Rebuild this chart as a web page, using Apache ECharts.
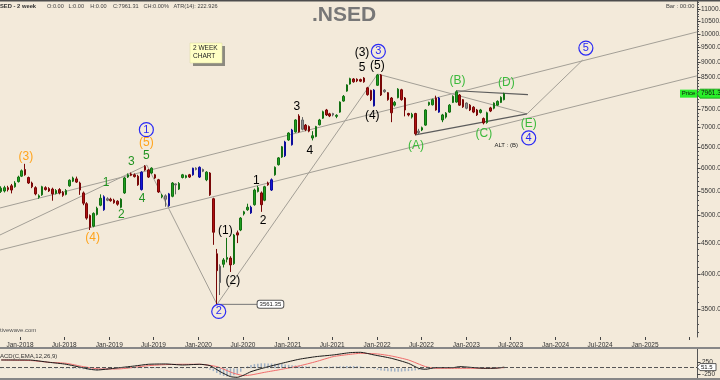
<!DOCTYPE html>
<html>
<head>
<meta charset="utf-8">
<title>.NSED - 2 week</title>
<script src="https://cdn.jsdelivr.net/npm/echarts@6/dist/echarts.min.js"></script>
<style>
html,body{margin:0;padding:0;background:#f3eada;overflow:hidden;}
#chart{width:720px;height:380px;}
</style>
</head>
<body>
<div id="chart"></div>
<script>
// ---------------- data ----------------
const firstBarDate = '2017-10-16';
const barStepDays = 14;

const opens = [5480,5490,5560,5600,5580,5690,5810,5960,5780,5660,
5560,5360,5410,5560,5540,5530,5440,5520,5460,5420,
5600,5700,5750,5660,5450,5230,5000,4800,5020,5200,
5110,5330,5320,5300,5280,5160,5450,5790,5860,5840,
5810,5520,6030,5950,5880,5840,5730,5370,5390,5190,
5380,5640,5530,5780,5780,5840,5840,5990,5790,5960,
5730,5880,5330,4320,4120,4150,4230,4250,4160,4680,
4730,5030,5110,5050,5210,5480,5450,5300,5660,5510,
5840,6070,6250,6620,6670,6930,6880,7310,7200,7060,
7020,6720,6760,7070,7250,7480,7370,7380,7300,7420,
7740,8040,8260,8420,8410,8400,8450,8140,8060,7600,
8220,8550,8070,7990,7830,7620,7840,8080,7830,7380,
7280,7380,6860,6930,7060,7630,7630,7830,7830,7200,
7280,7420,7700,7710,7920,7780,7680,7620,7560,7480,
7410,7240,7130,7540,7530,7620,7700,7780];

const closes = [5550,5560,5520,5510,5660,5790,5930,5840,5660,5580,
5430,5390,5580,5520,5490,5430,5500,5450,5400,5500,
5720,5770,5680,5510,5240,4950,4780,5040,5140,5340,
5370,5300,5290,5250,5220,5320,5770,5840,5830,5800,
5620,5900,5950,5790,5990,5770,5470,5400,5320,5430,
5660,5620,5650,5840,5820,5790,5990,5960,6010,5920,
5900,5410,4690,4050,3870,4220,4260,4140,4640,4640,
4950,5070,5160,5160,5510,5560,5210,5580,5620,5730,
6010,6230,6500,6280,6850,6550,7200,6880,6950,6940,
6900,6780,7020,7200,7430,7340,7310,7340,7330,7710,
7880,8230,8430,8330,8360,8350,8330,7930,7780,8070,
8550,7920,8020,7780,7400,7700,8100,7780,7480,7340,
7360,6830,6900,6990,7480,7700,7780,7480,7420,7340,
7390,7620,7880,8020,7620,7570,7530,7480,7420,7340,
7480,7120,7400,7450,7680,7730,7850,7961.31];

const highs = [5590,5600,5600,5640,5700,5820,5960,6090,5800,5690,
5590,5420,5600,5590,5570,5560,5530,5550,5490,5530,
5740,5800,5800,5690,5480,5260,5020,5060,5170,5420,
5400,5360,5350,5330,5300,5340,5790,5870,5890,5870,
5840,5920,6060,5970,6010,5860,5750,5430,5420,5450,
5680,5650,5680,5860,5840,5860,6000,6010,6030,5980,
5920,5900,5350,4400,4150,4250,4590,4280,4660,4720,
4970,5090,5230,5190,5540,5600,5480,5600,5690,5760,
6030,6250,6520,6650,6870,6960,7220,7360,7280,7090,
7050,6900,7040,7230,7460,7510,7400,7400,7360,7730,
7920,8250,8460,8450,8440,8430,8480,8170,8080,8100,
8580,8580,8100,8010,7860,7740,8130,8110,7860,7400,
7400,7400,6960,7020,7500,7720,7810,7900,7860,7370,
7420,7650,7910,8060,7950,7800,7700,7650,7590,7510,
7510,7270,7430,7570,7700,7760,7880,7990];

const lows = [5450,5460,5480,5440,5560,5670,5790,5820,5640,5550,
5400,5330,5390,5500,5470,5290,5420,5420,5370,5400,
5580,5680,5660,5410,5200,4920,4730,4780,5000,5180,
5090,5280,5270,5230,5190,5140,5430,5770,5810,5780,
5600,5500,5930,5770,5860,5750,5450,5340,5170,5170,
5360,5420,5510,5760,5760,5770,5820,5940,5770,5900,
5700,5390,4470,3561.35,3690,4100,4180,4030,4140,4500,
4710,5000,5090,5030,5190,5460,5070,5280,5600,5490,
5820,6050,6230,6250,6650,6530,6860,6860,6920,6900,
6870,6660,6740,7050,7230,7310,7280,7300,7250,7400,
7720,8020,8240,8300,8320,8320,8300,7900,7740,7580,
8200,7890,7990,7750,7140,7580,7820,7750,7300,7300,
7240,6790,6800,6900,7040,7600,7610,7460,7400,7140,
7240,7400,7680,7690,7600,7540,7500,7450,7390,7310,
7380,7080,7100,7420,7500,7600,7680,7760];

const blueBars = [30,41,49,56,58,73,79,83,85,109,128];
const greyBars = [31,48,51,57,59,64,88,97,112,122,136];

const xTickDates = ['2018-01-01','2018-07-01','2019-01-01','2019-07-01','2020-01-01','2020-07-01',
  '2021-01-01','2021-07-01','2022-01-01','2022-07-01','2023-01-01','2023-07-01','2024-01-01',
  '2024-07-01','2025-01-01','2025-07-01'];
const xTickLabels = ['Jan-2018','Jul-2018','Jan-2019','Jul-2019','Jan-2020','Jul-2020','Jan-2021',
  'Jul-2021','Jan-2022','Jul-2022','Jan-2023','Jul-2023','Jan-2024','Jul-2024','Jan-2025'];
const yTickLabels = [3500,4000,4500,5000,5500,6000,6500,7000,7500,8000,8500,9000,9500,10000,10500,11000];
const macdTickLabels = [250,-250];

const lastPrice = 7961.31;
const lastMacd = 51.5;
const swingLow = 3561.35;

// MACD(12,26,9), at bar indices
const macdIdx = [0,8,14,19,26,28,33,39,43,48,53,58,61,64,67,69,71,73,77,82,87,92,97,102,105,109,114,119,122,124,127,132,134,137,141,143,145,147];
const macdValues = [357,357,257,172,-43,-72,0,100,172,186,143,172,114,-143,-357,-386,-286,-143,29,214,386,500,572,672,686,572,429,214,0,-43,29,29,72,43,0,0,10,51.5];
const signalIdx = [0,9,14,19,24,29,34,39,43,48,53,58,63,68,71,73,77,82,87,92,97,102,105,110,114,119,124,127,134,143,147];
const signalValues = [357,329,257,214,72,-29,-29,43,114,157,172,172,72,-214,-314,-286,-172,-43,100,286,500,600,643,615,529,357,72,0,0,0,29];
const histValues = [10,12,10,8,10,8,6,5,
-5,-8,-10,-12,-10,-14,-12,-15,-18,-15,-20,-22,-25,-28,-30,-35,-40,
-60,-70,-75,-80,-75,-70,-60,-50,-40,
20,25,30,35,40,45,45,50,50,45,45,40,35,35,30,25,25,20,20,15,15,10,
5,0,-5,-10,-20,
-60,-120,-200,-280,-330,-357,-340,-300,-240,-150,
40,90,140,180,200,214,214,210,205,200,190,180,165,150,135,120,105,95,85,75,65,55,
60,60,65,70,75,80,85,90,95,100,100,95,
80,60,40,20,
-30,-60,-90,-110,-125,-135,-143,-143,-140,-130,-120,-105,-90,-70,-50,-30,-15,
5,8,10,12,10,8,6,5,4,3,2,0,-2,-4,-5,-3,0,3,6,10,15,20];

// Elliott wave annotations: [text, date, price]
const orangeLabels = [['(3)','2018-01-25',6250],['(4)','2018-10-25',4597],['(5)','2019-06-02',6596]];
const greenLabels = [['1','2018-12-19',5661],['2','2019-02-20',5020],['3','2019-04-02',6133],['4','2019-05-15',5325],['5','2019-06-02',6273]];
const blackLabels = [['(1)','2020-04-20',4711],['(2)','2020-05-21',3893],['1','2020-08-25',5704],['2','2020-09-21',4895],
  ['3','2021-02-07',7565],['4','2021-04-01',6396],['(3)','2021-10-31',9299],['5','2021-10-31',8781],['(5)','2022-01-02',8850],['(4)','2021-12-12',7311]];
const abcLabels = [['(A)','2022-06-09',6522],['(B)','2022-11-26',8359],['(C)','2023-03-14',6826],['(D)','2023-06-14',8291],['(E)','2023-09-13',7092]];
const circleLabels = [['1','2019-06-02',6939],['2','2020-03-24',3466],['3','2022-01-06',9353],['4','2023-09-13',6722],['5','2024-05-04',9475]];
const altLabels = [['ALT : (B)','2023-06-13',6547]];

// trend / wave lines: [date1, price1, date2, price2]
const channelLines = [
  ['2017-10-11',5145,'2025-08-01',10076],
  ['2017-10-11',4382,'2025-08-01',8520],
  ['2017-10-11',4641,'2019-06-04',6061],
  ['2019-06-04',6061,'2020-03-17',3561.35],
  ['2020-03-17',3561.35,'2022-01-03',8580],
  ['2022-01-03',8580,'2023-09-06',7368],
  ['2023-09-06',7368,'2024-04-21',9053]
];
const triangleLines = [
  ['2022-11-21',8050,'2023-09-10',7930],
  ['2022-06-06',6800,'2023-09-06',7368]
];
const lowMarker = ['2020-03-17','2020-08-28'];

// ---------------- chart ----------------
const FONT = '"Liberation Sans", Arial, sans-serif';
const chart = echarts.init(document.getElementById('chart'), null, {renderer:'canvas', width:720, height:380});
const toTime = s => { const p = s.split('-').map(Number); return new Date(p[0], p[1]-1, p[2]).getTime(); };
const st = firstBarDate.split('-').map(Number);
const barTimes = opens.map((_, i) => new Date(st[0], st[1]-1, st[2] + barStepDays*i).getTime());
const xMin = new Date(2017, 9, 11, 5).getTime();
const xMax = new Date(2025, 7, 1, 14).getTime();
const xTickTimes = xTickDates.map(toTime);
const xLabelTimes = xTickTimes.slice(0, xTickLabels.length);
const labelOf = v => { const k = xLabelTimes.findIndex(t => Math.abs(t - v) < 86400000); return k >= 0 ? xTickLabels[k] : ''; };

const candleData = opens.map((o, i) => {
  const item = {value:[barTimes[i], o, closes[i], lows[i], highs[i]]};
  if (blueBars.includes(i)) item.itemStyle = {color:'#1616d8', color0:'#1616d8', borderColor:'#0c0c9c', borderColor0:'#0c0c9c'};
  else if (greyBars.includes(i)) item.itemStyle = {color:'#929292', color0:'#929292', borderColor:'#666666', borderColor0:'#666666'};
  return item;
});

const series = [];
channelLines.forEach(l => series.push({type:'line', xAxisIndex:0, yAxisIndex:0, silent:true, symbol:'none', z:1,
  data:[[toTime(l[0]), l[1]],[toTime(l[2]), l[3]]], lineStyle:{color:'#a39f96', width:1}}));
triangleLines.forEach(l => series.push({type:'line', xAxisIndex:0, yAxisIndex:0, silent:true, symbol:'none', z:2,
  data:[[toTime(l[0]), l[1]],[toTime(l[2]), l[3]]], lineStyle:{color:'#5c5c5c', width:1.2}}));
series.push({type:'line', xAxisIndex:0, yAxisIndex:0, silent:true, symbol:'none', z:2,
  data:[[toTime(lowMarker[0]), swingLow],[toTime(lowMarker[1]), swingLow]], lineStyle:{color:'#777', width:1}});
series.push({type:'scatter', xAxisIndex:0, yAxisIndex:0, silent:true, symbolSize:1, z:7,
  itemStyle:{color:'rgba(0,0,0,0)', opacity:1},
  data:[{name:swingLow.toFixed(2), value:[toTime(lowMarker[1]), swingLow]}],
  label:{show:true, position:'right', distance:0, formatter:'{b}', fontSize:6, fontFamily:FONT, color:'#222', opacity:1,
    backgroundColor:'#ffffff', borderColor:'#555', borderWidth:1, borderRadius:2, padding:[1,2,0,2]}});

series.push({type:'candlestick', xAxisIndex:0, yAxisIndex:0, silent:true, z:3,
  dimensions:['date','open','close','lowest','highest'],
  encode:{x:'date', y:['open','close','lowest','highest']},
  data:candleData, barWidth:2,
  itemStyle:{color:'#1f9e1f', color0:'#ae1010', borderColor:'#127012', borderColor0:'#780707', borderWidth:1}});

function labelSeries(list, color, size) {
  return {type:'scatter', xAxisIndex:0, yAxisIndex:0, silent:true, symbolSize:1, z:6,
    itemStyle:{color:'rgba(0,0,0,0)', opacity:1},
    data:list.map(a => ({name:a[0], value:[toTime(a[1]), a[2]]})),
    label:{show:true, position:'inside', formatter:'{b}', color:color, opacity:1, fontSize:size, fontFamily:FONT}};
}
series.push(labelSeries(orangeLabels, '#ffa41c', 12));
series.push(labelSeries(greenLabels, '#229322', 12));
series.push(labelSeries(blackLabels, '#000000', 12));
series.push(labelSeries(abcLabels, '#3cba3c', 12));
series.push(labelSeries(altLabels, '#222222', 6));
series.push({type:'scatter', xAxisIndex:0, yAxisIndex:0, silent:true, symbol:'circle', symbolSize:14, z:6,
  itemStyle:{color:'rgba(0,0,0,0)', borderColor:'#2a2af5', borderWidth:1.2, opacity:1},
  data:circleLabels.map(a => ({name:a[0], value:[toTime(a[1]), a[2]]})),
  label:{show:true, position:'inside', formatter:'{b}', color:'#2a2af5', opacity:1, fontSize:11, fontFamily:FONT}});

// MACD panel
series.push({type:'bar', xAxisIndex:1, yAxisIndex:1, silent:true, z:2, barWidth:1.5,
  data:histValues.map((v, i) => [barTimes[i], v]), itemStyle:{color:'#9fb0c4'}});
series.push({type:'line', xAxisIndex:1, yAxisIndex:1, silent:true, symbol:'none', z:3, smooth:0.2,
  data:signalIdx.map((b, k) => [barTimes[b], signalValues[k]]), lineStyle:{color:'#f06c6c', width:1}});
series.push({type:'line', xAxisIndex:1, yAxisIndex:1, silent:true, symbol:'none', z:4, smooth:0.2,
  data:macdIdx.map((b, k) => [barTimes[b], macdValues[k]]), lineStyle:{color:'#1a1a1a', width:1},
  markLine:{silent:true, symbol:'none', label:{show:false}, data:[{yAxis:lastMacd}],
    lineStyle:{type:'dashed', color:'#555', width:1}}});

const option = {
  animation:false,
  backgroundColor:'#f3eada',
  grid:[{left:0, right:23, top:1, height:336}, {left:0, right:23, top:349, height:29}],
  xAxis:[
    {type:'value', gridIndex:0, min:xMin, max:xMax, splitLine:{show:false},
      axisLine:{show:false},
      axisTick:{show:true, customValues:xTickTimes, length:3, lineStyle:{color:'#444'}},
      axisLabel:{show:true, customValues:xLabelTimes, formatter:v => labelOf(v), fontSize:6.5,
        fontFamily:FONT, color:'#333', margin:5, hideOverlap:false}},
    {type:'value', gridIndex:1, min:xMin, max:xMax, show:false}
  ],
  yAxis:[
    {type:'log', logBase:10, gridIndex:0, min:3144, max:11340, position:'right',
      axisLine:{show:true, lineStyle:{color:'#555'}}, axisTick:{show:false}, axisLabel:{show:false}, splitLine:{show:false}},
    {type:'value', gridIndex:1, min:-416, max:828, position:'right',
      axisLine:{show:true, lineStyle:{color:'#555'}}, axisTick:{show:false}, axisLabel:{show:false}, splitLine:{show:false}}
  ],
  series:series
};
chart.setOption(option);

// ---------- overlays positioned through the axes ----------
const g = [];
const txt = (x, y, text, font, fill, align, z) => g.push({type:'text', x:x, y:y, silent:true, z:z || 100,
  style:{text:text, font:font, fill:fill, align:align || 'left', verticalAlign:'middle'}});
g.push({type:'rect', silent:true, z:90, shape:{x:0, y:0, width:720, height:1.5}, style:{fill:'#4c4c4c'}});
g.push({type:'rect', silent:true, z:90, shape:{x:0, y:347, width:720, height:2}, style:{fill:'#878787'}});
g.push({type:'rect', silent:true, z:90, shape:{x:0, y:378, width:720, height:2}, style:{fill:'#878787'}});

for (let v = 3200; v <= 11300; v += 100) {
  const y = Math.round(chart.convertToPixel({yAxisIndex:0}, v)) + 0.5;
  g.push({type:'line', silent:true, z:95, shape:{x1:697, y1:y, x2:699, y2:y}, style:{stroke:'#555', lineWidth:1}});
}
yTickLabels.forEach(v => {
  const y = Math.round(chart.convertToPixel({yAxisIndex:0}, v)) + 0.5;
  g.push({type:'line', silent:true, z:95, shape:{x1:697, y1:y, x2:700.5, y2:y}, style:{stroke:'#444', lineWidth:1}});
  txt(701, y, v.toFixed(2), '6.5px ' + FONT, '#333');
});
macdTickLabels.forEach(v => {
  const y = Math.round(chart.convertToPixel({yAxisIndex:1}, v)) + 0.5;
  g.push({type:'line', silent:true, z:95, shape:{x1:697, y1:y, x2:700.5, y2:y}, style:{stroke:'#444', lineWidth:1}});
  txt(702, y, String(v), '6.5px ' + FONT, '#333');
});
const py = chart.convertToPixel({yAxisIndex:0}, lastPrice);
g.push({type:'rect', silent:true, z:110, shape:{x:680, y:py - 4, width:17, height:8}, style:{fill:'#2aee2a'}});
txt(688.5, py, 'Price', '6px ' + FONT, '#111', 'center', 112);
g.push({type:'polygon', silent:true, z:110, shape:{points:[[697,py],[700,py-4.5],[721,py-4.5],[721,py+4.5],[700,py+4.5]]},
  style:{fill:'#2aee2a', stroke:'#119911', lineWidth:0.8}});
txt(701, py, lastPrice.toFixed(2), '6.5px ' + FONT, '#111', 'left', 112);
const my = chart.convertToPixel({yAxisIndex:1}, lastMacd);
g.push({type:'polygon', silent:true, z:110, shape:{points:[[697,my],[700,my-3.5],[716,my-3.5],[716,my+3.5],[700,my+3.5]]},
  style:{fill:'#ffffff', stroke:'#333', lineWidth:0.8}});
txt(701, my, String(lastMacd), '6px ' + FONT, '#111', 'left', 112);

txt(344, 15.5, '.NSED', 'bold 21px ' + FONT, '#777777', 'center');
txt(0, 6, 'SED - 2 week', 'bold 5.8px ' + FONT, '#333');
txt(47, 6, 'O:0.00   L:0.00    H:0.00    C:7961.31   CH:0.00%   ATR(14): 222.926', '5.6px ' + FONT, '#444');
txt(666, 6, 'Bar : 00:00', '5.8px ' + FONT, '#444');
txt(0, 330, 'tivewave.com', '6px ' + FONT, '#555');
txt(0, 356, 'ACD(C,EMA,12,26,9)', '6px ' + FONT, '#333');
g.push({type:'rect', silent:true, z:97, shape:{x:193, y:46, width:32, height:20}, style:{fill:'#8c8a80'}});
g.push({type:'rect', silent:true, z:98, shape:{x:190, y:43, width:32, height:20}, style:{fill:'#ffffc4', stroke:'#d8d8a0', lineWidth:0.5}});
txt(193, 48.5, '2 WEEK', '6.5px ' + FONT, '#222');
txt(193, 56.5, 'CHART', '6.5px ' + FONT, '#222');

chart.setOption({graphic:{elements:g}});
</script>
</body>
</html>
